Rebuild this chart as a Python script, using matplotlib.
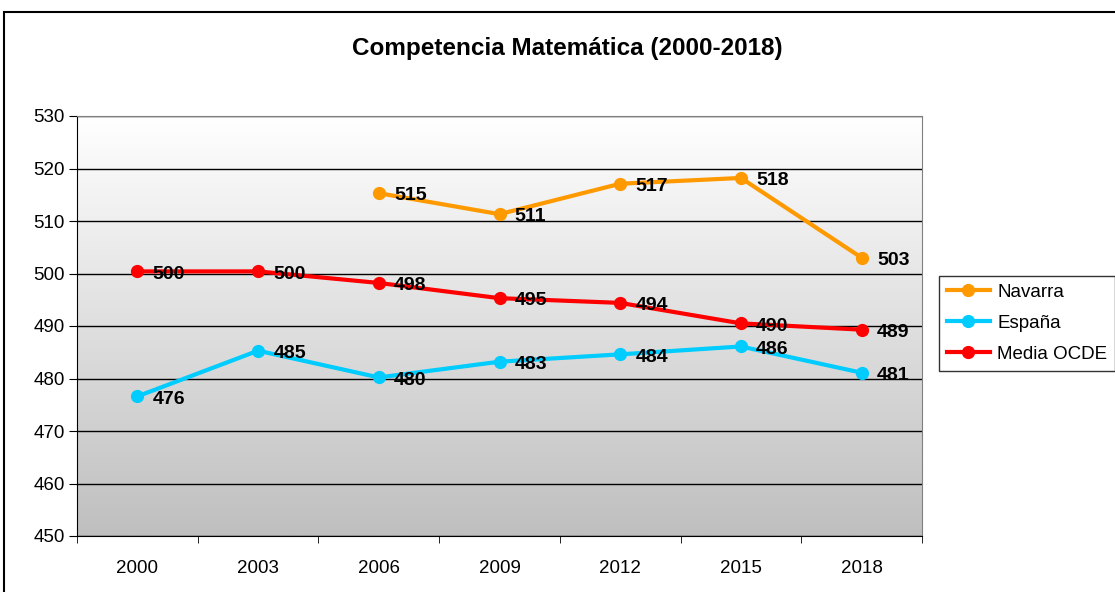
import matplotlib
matplotlib.use("Agg")
import numpy as np
import matplotlib.pyplot as plt
from matplotlib.patches import Rectangle
from matplotlib.colors import LinearSegmentedColormap

plt.rcParams["font.family"] = ["Liberation Sans", "DejaVu Sans"]

# Data
years = ["2000", "2003", "2006", "2009", "2012", "2015", "2018"]
navarra = [np.nan, np.nan, 515.3, 511.3, 517.1, 518.2, 503.0]
espana = [476.6, 485.3, 480.2, 483.2, 484.6, 486.1, 481.1]
ocde = [500.4, 500.4, 498.2, 495.3, 494.4, 490.5, 489.3]
navarra_lbl = ["", "", "515", "511", "517", "518", "503"]
espana_lbl = ["476", "485", "480", "483", "484", "486", "481"]
ocde_lbl = ["500", "500", "498", "495", "494", "490", "489"]

fig = plt.figure(figsize=(11.15, 5.92), dpi=100)
ax = fig.add_axes([77 / 1115, 1 - 536 / 592, 845 / 1115, 420 / 592])

# Figure frame (clipped at the right and bottom, as in the reference)
fig.patches.append(Rectangle((4 / 1115, -0.01), 1.05, 1 - 12 / 592 + 0.01,
                             transform=fig.transFigure, fill=False,
                             edgecolor="black", lw=1.5))

# Gradient background in the plot area: white at top, grey at bottom
grad = np.linspace(0, 1, 256).reshape(-1, 1)
bg = LinearSegmentedColormap.from_list("bg", ["#ffffff", "#bfbfbf"])
ax.imshow(grad, cmap=bg, aspect="auto", origin="upper",
          extent=[0, 1, 0, 1], transform=ax.transAxes, zorder=0)

x = np.arange(len(years))
series = [
    (navarra, navarra_lbl, "#ff9900", "Navarra"),
    (espana, espana_lbl, "#00ccff", "España"),
    (ocde, ocde_lbl, "#ff0000", "Media OCDE"),
]
for vals, lbls, col, name in series:
    ax.plot(x, vals, color=col, lw=3, marker="o", markersize=8.5, label=name,
            zorder=3)
    for xi, v, t in zip(x, vals, lbls):
        if t:
            ax.annotate(t, (xi, v), xytext=(11, -2), textcoords="offset points",
                        fontsize=14, fontweight="bold", va="center", ha="left",
                        zorder=4)

ax.set_xlim(-0.5, 6.5)
ax.set_ylim(450, 530)
ax.set_yticks(np.arange(450, 531, 10))
ax.yaxis.grid(True, color="black", lw=1)
ax.set_axisbelow(True)
ax.set_xticks(x)
ax.set_xticklabels(years)
ax.set_xticks(np.arange(-0.5, 7, 1), minor=True)
ax.tick_params(axis="x", which="major", length=0, pad=17, labelsize=13.5)
ax.tick_params(axis="x", which="minor", length=5, color="black")
ax.tick_params(axis="y", length=6, labelsize=13.5, pad=3)
ax.spines["left"].set_color("black")
ax.spines["bottom"].set_color("black")
ax.spines["top"].set_color("#808080")
ax.spines["right"].set_color("#808080")

fig.text(567 / 1115, 1 - 48 / 592, "Competencia Matemática (2000-2018)",
         fontsize=17.5, fontweight="bold", ha="center", va="center")

leg = ax.legend(loc="upper left", bbox_to_anchor=(939 / 1115, 1 - 276 / 592),
                bbox_transform=fig.transFigure, frameon=True, fancybox=False,
                edgecolor="black", fontsize=13.5, handlelength=2.3,
                borderpad=0.4, labelspacing=0.75, handletextpad=0.4,
                borderaxespad=0)
leg.get_frame().set_linewidth(1)

fig.savefig("out.png", dpi=100)
